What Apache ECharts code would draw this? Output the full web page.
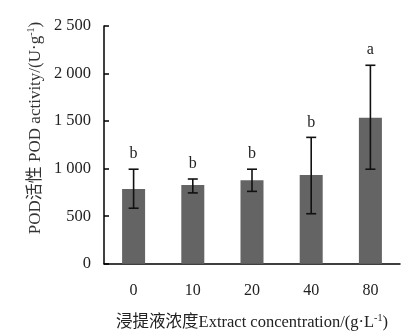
<!DOCTYPE html>
<html>
<head>
<meta charset="utf-8">
<script src="https://cdn.jsdelivr.net/npm/echarts@6/dist/echarts.min.js"></script>
<style>
  html, body { margin: 0; padding: 0; background: #fff; }
  #main { width: 418px; height: 336px; }
</style>
</head>
<body>
<div id="main"></div>
<script>
var categories = ['0', '10', '20', '40', '80'];
var podMean = [786, 828, 878, 932, 1534];
var errLow = [584, 745, 761, 526, 994];
var errHigh = [994, 891, 994, 1329, 2087];
var letters = ['b', 'b', 'b', 'b', 'a'];
var yTicks = [0, 500, 1000, 1500, 2000, 2500];

var font = '"Liberation Serif", "Times New Roman", "Noto Sans CJK SC", serif';

var myChart = echarts.init(document.getElementById('main'));

var errData = categories.map(function (c, i) {
  return [i, errLow[i], errHigh[i], letters[i]];
});

var option = {
  animation: false,
  textStyle: { fontFamily: font },
  grid: { left: 104, right: 18, top: 26, bottom: 66 },
  xAxis: {
    type: 'category',
    data: categories,
    axisLine: { lineStyle: { color: '#000', width: 1.5 } },
    axisTick: { show: false },
    axisLabel: { color: '#222', fontSize: 16, fontFamily: font, margin: 19 },
    name: '浸提液浓度Extract concentration/(g·L{sup|-1})',
    nameLocation: 'middle',
    nameGap: 50,
    nameTextStyle: {
      color: '#222', fontSize: 16.5, fontFamily: font,
      rich: { sup: { fontSize: 10, verticalAlign: 'top', padding: [0, 0, 8, 0], fontFamily: font } }
    }
  },
  yAxis: {
    type: 'value',
    min: 0,
    max: 2500,
    interval: 500,
    axisLine: { show: true, lineStyle: { color: '#000', width: 1.5 } },
    axisTick: { show: true, inside: true, length: 5, lineStyle: { color: '#000', width: 1.5 } },
    splitLine: { show: false },
    axisLabel: {
      color: '#222', fontSize: 16.5, fontFamily: font, margin: 13,
      formatter: function (v) {
        if (yTicks.indexOf(v) < 0) return '';
        return v >= 1000 ? Math.floor(v / 1000) + ' ' + String(v % 1000).padStart(3, '0') : String(v);
      }
    }
  },
  graphic: [{
    type: 'text',
    x: 36,
    y: 128,
    rotation: Math.PI / 2,
    style: {
      text: 'POD活性 POD activity/(U·g{sup|-1})',
      fill: '#333',
      font: '17px ' + font,
      align: 'center',
      verticalAlign: 'middle',
      rich: { sup: { fontSize: 10, fontFamily: font, padding: [0, 0, 9, 0] } }
    }
  }],
  series: [
    {
      type: 'bar',
      data: podMean,
      barWidth: 23,
      itemStyle: { color: '#646464' },
      z: 2
    },
    {
      type: 'custom',
      data: errData,
      z: 5,
      encode: { x: 0, y: [1, 2] },
      renderItem: function (params, api) {
        var x = api.value(0);
        var lo = api.coord([x, api.value(1)]);
        var hi = api.coord([x, api.value(2)]);
        var cap = 5;
        var st = { stroke: '#111', lineWidth: 1.6 };
        return {
          type: 'group',
          children: [
            { type: 'line', shape: { x1: hi[0], y1: hi[1], x2: lo[0], y2: lo[1] }, style: st },
            { type: 'line', shape: { x1: hi[0] - cap, y1: hi[1], x2: hi[0] + cap, y2: hi[1] }, style: st },
            { type: 'line', shape: { x1: lo[0] - cap, y1: lo[1], x2: lo[0] + cap, y2: lo[1] }, style: st },
            {
              type: 'text',
              x: hi[0],
              y: hi[1] - 15,
              style: {
                text: api.value(3),
                fill: '#222',
                font: '16px ' + font,
                align: 'center',
                verticalAlign: 'middle'
              }
            }
          ]
        };
      }
    }
  ]
};

myChart.setOption(option);
</script>
</body>
</html>
